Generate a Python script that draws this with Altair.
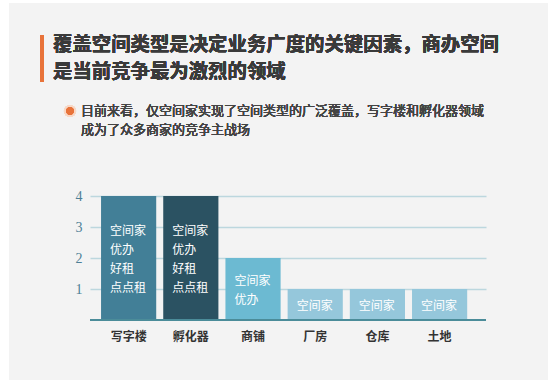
import altair as alt
import pandas as pd

categories = ["写字楼", "孵化器", "商铺", "厂房", "仓库", "土地"]
values = [4, 4, 2, 1, 1, 1]
bar_labels = ["空间家\n优办\n好租\n点点租", "空间家\n优办\n好租\n点点租", "空间家\n优办",
              "空间家", "空间家", "空间家"]
bar_colors = ["#427f97", "#2b5262", "#6cbad2", "#95c7db", "#95c7db", "#95c7db"]
y_ticks = [1, 2, 3, 4]

title_lines = ["覆盖空间类型是决定业务广度的关键因素，商办空间", "是当前竞争最为激烈的领域"]
subtitle_lines = ["目前来看，仅空间家实现了空间类型的广泛覆盖，写字楼和孵化器领域", "成为了众多商家的竞争主战场"]

FONT = "Noto Sans CJK SC"
W, H = 396, 124
PL, PT = 90, 196
LH = 19

df = pd.DataFrame({"cat": categories, "value": values, "label": bar_labels})

xscale = alt.Scale(domain=categories, paddingInner=0.113, paddingOuter=0.24, align=0.37)
yscale = alt.Scale(domain=[0, 4], nice=False)

base = alt.Chart(df)

# white margins around the grey card
margins = [
    alt.Chart(df).mark_rect(color="white").encode(
        x=alt.value(-PL), x2=alt.value(9 - PL), y=alt.value(-PT), y2=alt.value(400 - PT)),
    alt.Chart(df).mark_rect(color="white").encode(
        x=alt.value(548 - PL), x2=alt.value(560 - PL), y=alt.value(-PT), y2=alt.value(400 - PT)),
    alt.Chart(df).mark_rect(color="white").encode(
        x=alt.value(-PL), x2=alt.value(560 - PL), y=alt.value(-PT), y2=alt.value(3 - PT)),
]

bars = base.mark_bar().encode(
    x=alt.X("cat:N", scale=xscale, sort=categories,
            axis=alt.Axis(title=None, domain=False, ticks=False, labelFont=FONT,
                          labelFontSize=12, labelFontWeight="bold", labelColor="#333333",
                          labelPadding=11, labelAngle=0)),
    y=alt.Y("value:Q", scale=yscale,
            axis=alt.Axis(title=None, values=y_ticks, domain=False, ticks=False,
                          labelFont="Liberation Serif", labelFontSize=14,
                          labelColor="#4d7f96", labelPadding=8,
                          grid=True, gridColor="#bcd7de", gridWidth=1.5)),
    color=alt.Color("cat:N", scale=alt.Scale(domain=categories, range=bar_colors), legend=None),
)


def label_layer(n_lines):
    return base.transform_calculate(
        mid="datum.value / 2",
        n="split(datum.label, '\\n').length",
    ).transform_filter(
        alt.datum.n == n_lines
    ).mark_text(
        align="left", baseline="middle", dx=9, dy=-(n_lines - 1) * LH / 2 + 1,
        color="white", font=FONT, fontSize=12, lineBreak="\n", lineHeight=LH,
    ).encode(
        x=alt.X("cat:N", scale=xscale, sort=categories, bandPosition=0),
        y=alt.Y("mid:Q", scale=yscale),
        text="label:N",
    )


texts = [label_layer(k) for k in (1, 2, 3, 4)]

baseline_rule = alt.Chart(df).mark_rule(color="#4b8c99", strokeWidth=2).encode(
    y=alt.datum(0)
)

accent = alt.Chart(df).mark_rect(color="#e8733a").encode(
    x=alt.value(40 - PL), x2=alt.value(44 - PL),
    y=alt.value(35 - PT), y2=alt.value(82 - PT),
)

title1 = alt.Chart(df).mark_text(
    text=title_lines[0], align="left", baseline="middle", font=FONT, fontSize=19.4,
    fontWeight="bold", color="#3a3a3a",
).encode(x=alt.value(53 - PL), y=alt.value(45 - PT))
title2 = alt.Chart(df).mark_text(
    text=title_lines[1], align="left", baseline="middle", font=FONT, fontSize=19.4,
    fontWeight="bold", color="#3a3a3a",
).encode(x=alt.value(53 - PL), y=alt.value(72 - PT))

halo = alt.Chart(df).mark_point(shape="circle", filled=True, size=150, color="#f8d8c6", opacity=1).encode(
    x=alt.value(70 - PL), y=alt.value(111 - PT))
dot = alt.Chart(df).mark_point(shape="circle", filled=True, size=55, color="#e8733a", opacity=1).encode(
    x=alt.value(70 - PL), y=alt.value(111 - PT))

sub1 = alt.Chart(df).mark_text(
    text=subtitle_lines[0], align="left", baseline="middle", font=FONT, fontSize=13,
    color="#444444",
).encode(x=alt.value(81 - PL), y=alt.value(111 - PT))
sub2 = alt.Chart(df).mark_text(
    text=subtitle_lines[1], align="left", baseline="middle", font=FONT, fontSize=13,
    color="#444444",
).encode(x=alt.value(81 - PL), y=alt.value(130 - PT))

chart = alt.layer(
    *margins, bars, baseline_rule, *texts, accent, title1, title2, halo, dot, sub1, sub2
).properties(
    width=W, height=H, background="#f3f3f3",
    autosize=alt.AutoSizeParams(type="none"),
    padding={"left": PL, "top": PT, "right": 557 - PL - W, "bottom": 380 - PT - H},
).configure_view(stroke=None)

chart.save("out.html", embed_options={"renderer": "svg", "actions": False})
